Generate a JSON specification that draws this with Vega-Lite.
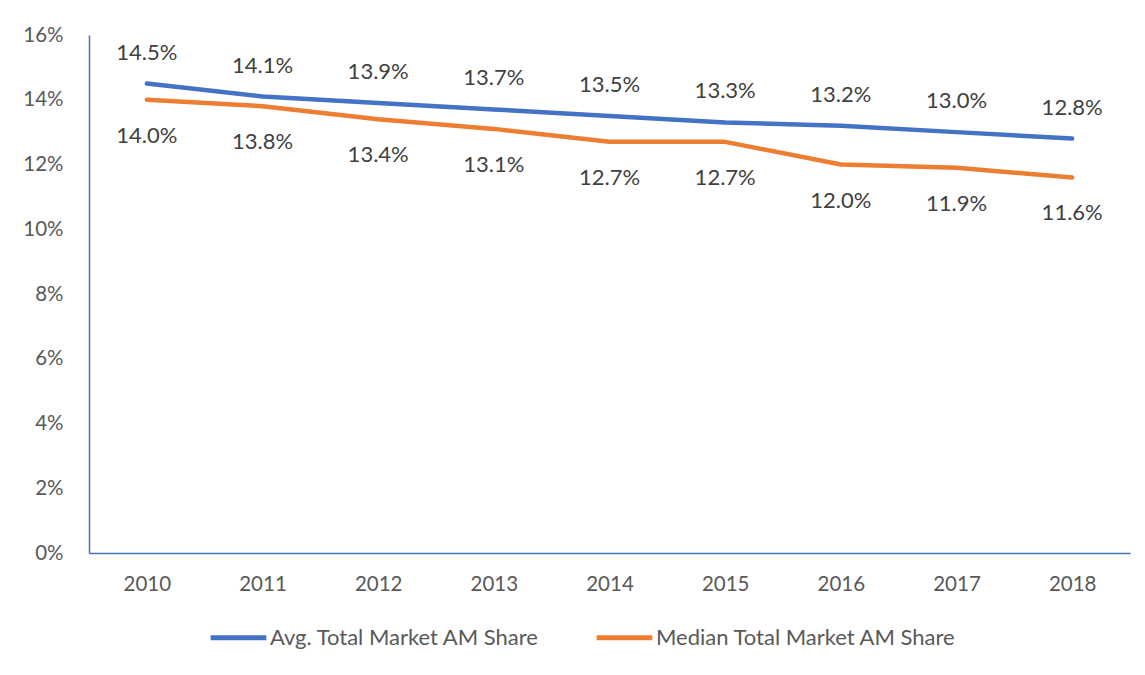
{
  "$schema": "https://vega.github.io/schema/vega-lite/v6.json",
  "autosize": "none",
  "width": 1041,
  "height": 518,
  "padding": {"left": 89, "top": 35, "right": 15, "bottom": 122},
  "background": "white",
  "config": {
    "view": {"stroke": null},
    "font": "Lato",
    "axis": {"grid": false, "ticks": false, "domainColor": "#4472C4", "domainWidth": 1.5, "labelColor": "#595959", "labelFontSize": 20.5, "labelFont": "Lato", "title": null}
  },
  "data": {
    "values": [
      {"year": "2010", "series": "Avg. Total Market AM Share", "value": 0.145},
      {"year": "2011", "series": "Avg. Total Market AM Share", "value": 0.141},
      {"year": "2012", "series": "Avg. Total Market AM Share", "value": 0.139},
      {"year": "2013", "series": "Avg. Total Market AM Share", "value": 0.137},
      {"year": "2014", "series": "Avg. Total Market AM Share", "value": 0.135},
      {"year": "2015", "series": "Avg. Total Market AM Share", "value": 0.133},
      {"year": "2016", "series": "Avg. Total Market AM Share", "value": 0.132},
      {"year": "2017", "series": "Avg. Total Market AM Share", "value": 0.130},
      {"year": "2018", "series": "Avg. Total Market AM Share", "value": 0.128},
      {"year": "2010", "series": "Median Total Market AM Share", "value": 0.140},
      {"year": "2011", "series": "Median Total Market AM Share", "value": 0.138},
      {"year": "2012", "series": "Median Total Market AM Share", "value": 0.134},
      {"year": "2013", "series": "Median Total Market AM Share", "value": 0.131},
      {"year": "2014", "series": "Median Total Market AM Share", "value": 0.127},
      {"year": "2015", "series": "Median Total Market AM Share", "value": 0.127},
      {"year": "2016", "series": "Median Total Market AM Share", "value": 0.120},
      {"year": "2017", "series": "Median Total Market AM Share", "value": 0.119},
      {"year": "2018", "series": "Median Total Market AM Share", "value": 0.116}
    ]
  },
  "encoding": {
    "x": {"field": "year", "type": "ordinal", "scale": {"type": "point", "padding": 0.5}, "axis": {"labelAngle": 0, "labelPadding": 21}},
    "y": {"field": "value", "type": "quantitative", "scale": {"domain": [0, 0.16], "nice": false}, "axis": {"format": ".0%", "values": [0, 0.02, 0.04, 0.06, 0.08, 0.1, 0.12, 0.14, 0.16], "labelPadding": 26}}
  },
  "layer": [
    {
      "mark": {"type": "line", "strokeWidth": 4.5, "strokeCap": "round", "strokeJoin": "round"},
      "encoding": {
        "color": {
          "field": "series", "type": "nominal",
          "scale": {"domain": ["Avg. Total Market AM Share", "Median Total Market AM Share"], "range": ["#4472C4", "#ED7D31"]},
          "legend": {
            "title": null, "orient": "none", "direction": "horizontal",
            "legendX": 119, "legendY": 572,
            "symbolType": "stroke", "symbolSize": 3100, "symbolStrokeWidth": 5,
            "labelFontSize": 22, "labelColor": "#595959", "labelFont": "Lato", "labelLimit": 0,
            "labelOffset": 1, "columnPadding": 46
          }
        }
      }
    },
    {
      "transform": [{"filter": "datum.series === 'Avg. Total Market AM Share'"}],
      "mark": {"type": "text", "dy": -31, "fontSize": 22, "color": "#404040"},
      "encoding": {"text": {"field": "value", "type": "quantitative", "format": ".1%"}}
    },
    {
      "transform": [{"filter": "datum.series === 'Median Total Market AM Share'"}],
      "mark": {"type": "text", "dy": 36, "fontSize": 22, "color": "#404040"},
      "encoding": {"text": {"field": "value", "type": "quantitative", "format": ".1%"}}
    }
  ]
}
